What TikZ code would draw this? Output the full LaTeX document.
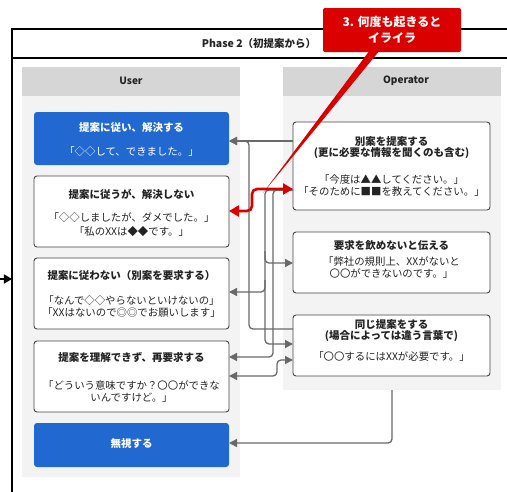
\documentclass[tikz,border=0pt]{standalone}
\usepackage{fontspec}
\setmainfont{Noto Sans CJK JP}
\usetikzlibrary{arrows.meta}
\definecolor{hdgray}{RGB}{214,214,214}
\definecolor{lanegray}{RGB}{243,243,243}
\definecolor{bblue}{RGB}{33,104,209}
\definecolor{conn}{RGB}{105,105,105}
\definecolor{bord}{RGB}{70,70,70}
\definecolor{cred}{RGB}{218,0,0}
\definecolor{tdark}{RGB}{35,35,35}
\tikzset{
 box/.style={draw=bord, line width=0.9pt, rounded corners=3pt, fill=white, inner sep=0pt, outer sep=0pt, anchor=north west},
 bluebox/.style={fill=bblue, rounded corners=3pt, inner sep=0pt, outer sep=0pt, anchor=north west},
 lane/.style={fill=lanegray, inner sep=0pt, outer sep=0pt, anchor=north west},
 lanehd/.style={fill=hdgray, inner sep=0pt, outer sep=0pt, anchor=north west},
 hdtxt/.style={font=\bfseries\fontsize{10}{12}\selectfont, text=tdark, inner sep=0pt},
 ttl/.style={font=\bfseries\fontsize{10.5}{11.5}\selectfont, text=tdark, align=center, inner sep=0pt},
 qt/.style={font=\fontsize{10.4}{12}\selectfont, text=tdark, align=center, inner sep=0pt},
 gc/.style={draw=conn, line width=1.3pt, rounded corners=4pt},
 gtip/.style={-{Triangle[length=8pt,width=8pt]}},
 gtips/.style={{Triangle[length=8pt,width=8pt]}-{Triangle[length=8pt,width=8pt]}},
 redc/.style={draw=cred, line width=2.6pt, rounded corners=5pt, {Triangle[length=10pt,width=11pt]}-{Triangle[length=10pt,width=11pt]}},
}
\begin{document}
\begin{tikzpicture}[x=1pt,y=-1pt]
\useasboundingbox (0,0) rectangle (507,491);
\begin{scope}
\clip (0,0) rectangle (507,491);
% frame
\node[draw=black, line width=1.2pt, inner sep=0pt, outer sep=0pt, anchor=north west, minimum width=498pt, minimum height=480pt] (frame) at (12,29) {};
\draw[line width=1.2pt] (frame.west |- 0,58) -- (frame.east |- 0,58);
\node[font=\bfseries\fontsize{10.5}{12}\selectfont, text=tdark, inner sep=0pt] (phase) at (259,44) {Phase 2（初提案から）};
% lanes
\node[lane, minimum width=218pt, minimum height=410pt] (laneU) at (22,67) {};
\node[lanehd, minimum width=218pt, minimum height=29pt] (hdU) at (22,67) {};
\node[hdtxt] (hdUt) at (131,81) {User};
\node[lane, minimum width=218pt, minimum height=323pt] (laneO) at (283,67) {};
\node[lanehd, minimum width=218pt, minimum height=29pt] (hdO) at (283,67) {};
\node[hdtxt] (hdOt) at (406,81) {Operator};
% user boxes
\node[bluebox, minimum width=195pt, minimum height=53pt] (u1) at (34,112) {};
\node[ttl, text=white] (u1t) at (131.5,128) {提案に従い、解決する};
\node[qt, text=white] (u1q) at (131.5,152) {「◇◇して、できました。」};
\node[box, minimum width=195pt, minimum height=71pt] (u2) at (34,176) {};
\node[ttl] (u2t) at (131.5,194) {提案に従うが、解決しない};
\node[qt, font=\fontsize{10.4}{14}\selectfont] (u2q) at (131.5,225) {「◇◇しましたが、ダメでした。」\\「私のXXは◆◆です。」};
\node[box, minimum width=195pt, minimum height=71pt] (u3) at (34,258) {};
\node[ttl] (u3t) at (131.5,275) {提案に従わない（別案を要求する）};
\node[qt] (u3q) at (131.5,306) {「なんで◇◇やらないといけないの」\\「XXはないので◎◎でお願いします」};
\node[box, minimum width=195pt, minimum height=71pt] (u4) at (34,341) {};
\node[ttl] (u4t) at (131.5,357) {提案を理解できず、再要求する};
\node[qt] (u4q) at (131.5,392) {「どういう意味ですか？〇〇ができな\\いんですけど。」};
\node[bluebox, minimum width=195pt, minimum height=44pt] (u5) at (34,423) {};
\node[ttl, text=white] (u5t) at (131.5,444) {無視する};
% operator boxes
\node[box, minimum width=197pt, minimum height=88pt] (o1) at (293,122) {};
\node[ttl] (o1t) at (391.5,147.5) {別案を提案する\\(更に必要な情報を聞くのも含む)};
\node[qt] (o1q) at (391.5,185.5) {「今度は▲▲してください。」\\「そのために■■を教えてください。」};
\node[box, minimum width=197pt, minimum height=61pt] (o2) at (293,232) {};
\node[ttl] (o2t) at (391.5,245) {要求を飲めないと伝える};
\node[qt] (o2q) at (391.5,268) {「弊社の規則上、XXがないと\\〇〇ができないのです。」};
\node[box, minimum width=197pt, minimum height=61pt] (o3) at (293,315) {};
\node[ttl] (o3t) at (391.5,330.5) {同じ提案をする\\(場合によっては違う言葉で)};
\node[qt] (o3q) at (391.5,357) {「〇〇するにはXXが必要です。」};
% gray connectors
\draw[gc, gtip] (o1.west |- 0,141) -- (u1.east |- 0,141);
\draw[gc, gtip] (o3.west |- 0,329) -- (249,329) -- (249,141) -- (u1.east |- 0,141);
\draw[gc, gtip] (o1.west |- 0,190) -- (265,190) -- (265,344) -- (o3.west |- 0,344);
\draw[gc, gtip] (265,280) -- (265,292) -- (u3.east |- 0,292);
\draw[gc, gtip] (265,251) -- (265,263) -- (o2.west |- 0,263);
\draw[gc, gtip] (o1.west |- 0,190) -- (273,190) -- (273,357) -- (u4.east |- 0,357);
\draw[gc, gtips] (u4.east |- 0,376) -- (277,376) -- (277,360) -- (o3.west |- 0,360);
\draw[gc, gtip] (392,390) -- (392,443) -- (u5.east |- 0,443);
% red connector
\draw[redc] (u2.east |- 0,211) -- (252,211) -- (252,189) -- (o1.west |- 0,189);
% callout
\fill[cred] (370,50) -- (380,50) -- (263,193) -- cycle;
\node[fill=cred, rounded corners=2pt, inner sep=0pt, outer sep=0pt, anchor=north west, minimum width=138pt, minimum height=44pt] (call) at (323,8) {};
\node[font=\bfseries\fontsize{12}{16}\selectfont, text=white, align=center, inner sep=0pt] (callt) at (call.center) {3. 何度も起きると\\イライラ};
% entry arrow
\coordinate (entry) at (0,279);
\draw[line width=1.2pt, -{Triangle[length=8pt,width=9pt]}] (entry) -- (frame.west |- entry);
\end{scope}
\end{tikzpicture}
\end{document}
